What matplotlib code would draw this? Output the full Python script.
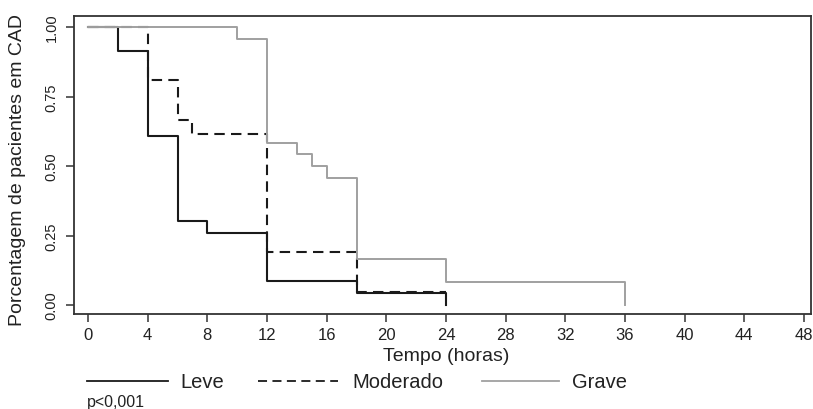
import matplotlib
matplotlib.use("Agg")
import matplotlib.pyplot as plt
from matplotlib.lines import Line2D

plt.rcParams['font.family'] = ['Liberation Sans', 'DejaVu Sans']

# Kaplan-Meier style step data (time in hours, proportion still in CAD)
leve_t = [0, 2, 4, 6, 8, 12, 18, 24]
leve_s = [1.0, 0.913, 0.609, 0.304, 0.261, 0.087, 0.043, 0.0]

moder_t = [0, 4, 6, 7, 12, 18, 24]
moder_s = [1.0, 0.808, 0.667, 0.615, 0.192, 0.048, 0.048]

grave_t = [0, 10, 12, 14, 15, 16, 18, 24, 36]
grave_s = [1.0, 0.958, 0.583, 0.542, 0.5, 0.458, 0.167, 0.083, 0.0]

x_ticks = list(range(0, 49, 4))
y_ticks = [0.0, 0.25, 0.5, 0.75, 1.0]
y_tick_labels = ["0.00", "0.25", "0.50", "0.75", "1.00"]
legend_labels = ["Leve", "Moderado", "Grave"]

fig = plt.figure(figsize=(8.13, 4.10), dpi=100)
ax = fig.add_axes([74/813, 1-315/410, (811-74)/813, (315-17)/410])

ax.step(leve_t, leve_s, where='post', color='#1a1a1a', lw=1.5, linestyle='-')
ax.step(moder_t, moder_s, where='post', color='#1a1a1a', lw=1.5, linestyle=(0, (5, 3)))
ax.step(grave_t, grave_s, where='post', color='#a0a0a0', lw=1.4, linestyle='-')

ax.set_xlim(-0.94, 48.47)
ax.set_ylim(-0.032, 1.04)
ax.set_xticks(x_ticks)
ax.set_xticklabels([str(v) for v in x_ticks], fontsize=12)
ax.set_yticks(y_ticks)
ax.set_yticklabels(y_tick_labels, rotation=90, va='center', fontsize=10.5)
ax.tick_params(axis='both', length=6, width=1.1, color='#333333', labelcolor='#222222')
ax.tick_params(axis='x', pad=3.5)
ax.tick_params(axis='y', pad=5)
for s in ax.spines.values():
    s.set_linewidth(1.3)
    s.set_color('#333333')

fig.text(446/813, 1-357/410, "Tempo (horas)", ha='center', va='center',
         fontsize=14, color='#222222')
fig.text(17.5/813, 1-170/410, "Porcentagem de pacientes em CAD", rotation=90,
         ha='center', va='center', fontsize=14, color='#222222')

# Legend drawn below the plot
styles = [dict(color='#1a1a1a', ls='-'), dict(color='#1a1a1a', ls=(0, (5, 3))),
          dict(color='#a0a0a0', ls='-')]
line_x = [(87, 168), (258, 338), (482, 559)]
text_x = [180, 352, 572]
ly = 1 - 382/410
for lab, st, (x0, x1), tx in zip(legend_labels, styles, line_x, text_x):
    fig.add_artist(Line2D([x0/813, x1/813], [ly, ly], transform=fig.transFigure,
                          lw=1.3, color=st['color'], linestyle=st['ls']))
    fig.text(tx/813, 1 - 383/410, lab, ha='left', va='center', fontsize=14.5, color='#222222')

fig.text(87/813, 1-403/410, "p<0,001", ha='left', va='center', fontsize=11.5, color='#222222')

fig.savefig("out.png", dpi=100)
